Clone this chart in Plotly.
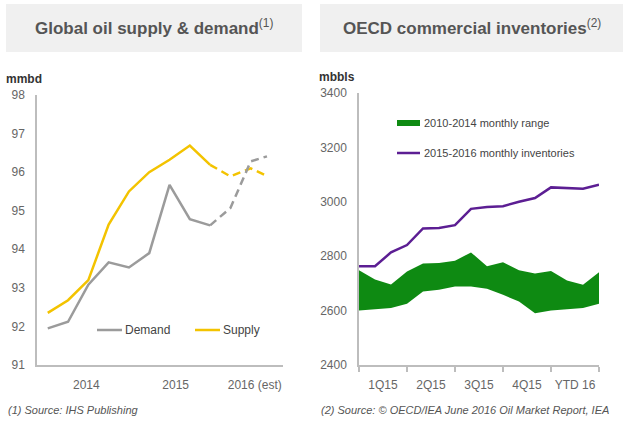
import plotly.graph_objects as go

# ---------------- data ----------------
# Left chart: quarterly global oil supply & demand (mmbd)
left_x = [0, 1, 2, 3, 4, 5, 6, 7, 8, 9, 10, 10.8]
demand = [91.95, 92.12, 93.08, 93.66, 93.53, 93.9, 95.67, 94.78, 94.62, 95.07, 96.28, 96.41]
supply = [92.35, 92.68, 93.2, 94.64, 95.5, 96.0, 96.32, 96.69, 96.19, 95.89, 96.1, 95.9]
forecast_start = 8  # index from which the series are estimates (dashed)
left_tick_labels = ["2014", "2015", "2016 (est)"]
left_tick_pos = [1.9, 6.3, 10.2]

# Right chart: monthly OECD commercial inventories (mbbls)
months = list(range(16))
range_low = [2600, 2604, 2610, 2625, 2670, 2677, 2689, 2689, 2680, 2658, 2633, 2590, 2600, 2605, 2610, 2625]
range_high = [2748, 2714, 2696, 2744, 2773, 2775, 2783, 2814, 2763, 2778, 2748, 2736, 2746, 2711, 2695, 2741]
inventories = [2763, 2763, 2814, 2841, 2902, 2904, 2914, 2974, 2981, 2984, 3000, 3014, 3053, 3051, 3048, 3063]
right_tick_labels = ["1Q15", "2Q15", "3Q15", "4Q15", "YTD 16"]

# ---------------- style ----------------
YELLOW = "#F3C300"
GRAY = "#9B9B9B"
PURPLE = "#5C1E93"
GREEN = "#0E8A12"
AXIS = "#BDBDBD"
TICK = "#666666"
FONT = "Liberation Sans, Arial, sans-serif"
DASH = "8px,5px"

fig = go.Figure()

fs = forecast_start
# Left chart traces
fig.add_trace(go.Scatter(x=left_x[:fs + 1], y=supply[:fs + 1], mode="lines",
                         line=dict(color=YELLOW, width=2.5), xaxis="x", yaxis="y", showlegend=False))
fig.add_trace(go.Scatter(x=left_x[fs:], y=supply[fs:], mode="lines",
                         line=dict(color=YELLOW, width=2.5, dash=DASH), xaxis="x", yaxis="y", showlegend=False))
fig.add_trace(go.Scatter(x=left_x[:fs + 1], y=demand[:fs + 1], mode="lines",
                         line=dict(color=GRAY, width=2.5), xaxis="x", yaxis="y", showlegend=False))
fig.add_trace(go.Scatter(x=left_x[fs:], y=demand[fs:], mode="lines",
                         line=dict(color=GRAY, width=2.5, dash=DASH), xaxis="x", yaxis="y", showlegend=False))

# Right chart traces
fig.add_trace(go.Scatter(x=months, y=range_low, mode="lines", line=dict(width=0, color=GREEN),
                         xaxis="x2", yaxis="y2", showlegend=False, hoverinfo="skip"))
fig.add_trace(go.Scatter(x=months, y=range_high, mode="lines", line=dict(width=0, color=GREEN),
                         fill="tonexty", fillcolor=GREEN, xaxis="x2", yaxis="y2", showlegend=False))
fig.add_trace(go.Scatter(x=months, y=inventories, mode="lines", line=dict(color=PURPLE, width=2.5),
                         xaxis="x2", yaxis="y2", showlegend=False))

W, H = 629, 422


def px(x):
    return x / W


def py(y):
    return 1 - y / H


shapes = [
    # title boxes
    dict(type="rect", xref="paper", yref="paper", x0=px(6), x1=px(302), y0=py(52), y1=py(4),
         fillcolor="#F0F0F0", line=dict(width=0), layer="below"),
    dict(type="rect", xref="paper", yref="paper", x0=px(320), x1=px(623), y0=py(52), y1=py(4),
         fillcolor="#F0F0F0", line=dict(width=0), layer="below"),
    # left legend samples
    dict(type="line", xref="paper", yref="paper", x0=px(97), x1=px(122), y0=py(330), y1=py(330),
         line=dict(color=GRAY, width=2.5)),
    dict(type="line", xref="paper", yref="paper", x0=px(195), x1=px(220), y0=py(330), y1=py(330),
         line=dict(color=YELLOW, width=2.5)),
    # right legend samples
    dict(type="rect", xref="paper", yref="paper", x0=px(397), x1=px(420), y0=py(126), y1=py(120),
         fillcolor=GREEN, line=dict(width=0)),
    dict(type="line", xref="paper", yref="paper", x0=px(397), x1=px(420), y0=py(153), y1=py(153),
         line=dict(color=PURPLE, width=2.5)),
]

annotations = [
    dict(text="<b>Global oil supply & demand</b><sup>(1)</sup>", x=px(154), y=py(27), xref="paper", yref="paper",
         showarrow=False, font=dict(size=17, color="#555555", family=FONT), xanchor="center", yanchor="middle"),
    dict(text="<b>OECD commercial inventories</b><sup>(2)</sup>", x=px(472), y=py(27), xref="paper", yref="paper",
         showarrow=False, font=dict(size=17, color="#555555", family=FONT), xanchor="center", yanchor="middle"),
    dict(text="<b>mmbd</b>", x=px(4), y=py(79), xref="paper", yref="paper", showarrow=False,
         font=dict(size=12, color="#333333", family=FONT), xanchor="left", yanchor="middle"),
    dict(text="<b>mbbls</b>", x=px(317), y=py(77), xref="paper", yref="paper", showarrow=False,
         font=dict(size=12, color="#333333", family=FONT), xanchor="left", yanchor="middle"),
    dict(text="Demand", x=px(123), y=py(330), xref="paper", yref="paper", showarrow=False,
         font=dict(size=12, color="#444444", family=FONT), xanchor="left", yanchor="middle"),
    dict(text="Supply", x=px(221), y=py(330), xref="paper", yref="paper", showarrow=False,
         font=dict(size=12, color="#444444", family=FONT), xanchor="left", yanchor="middle"),
    dict(text="2010-2014 monthly range", x=px(422), y=py(123), xref="paper", yref="paper", showarrow=False,
         font=dict(size=11, color="#444444", family=FONT), xanchor="left", yanchor="middle"),
    dict(text="2015-2016 monthly inventories", x=px(422), y=py(153), xref="paper", yref="paper", showarrow=False,
         font=dict(size=11, color="#444444", family=FONT), xanchor="left", yanchor="middle"),
    dict(text="<i>(1) Source: IHS Publishing</i>", x=px(6), y=py(410), xref="paper", yref="paper",
         showarrow=False, font=dict(size=11, color="#555555", family=FONT), xanchor="left", yanchor="middle"),
    dict(text="<i>(2) Source: © OECD/IEA June 2016 Oil Market Report, IEA</i>", x=px(319), y=py(410),
         xref="paper", yref="paper", showarrow=False, font=dict(size=11, color="#555555", family=FONT),
         xanchor="left", yanchor="middle"),
]

axis_common = dict(showgrid=False, zeroline=False, showline=True, linecolor=AXIS, linewidth=1.5,
                   automargin=False, tickfont=dict(size=12, color=TICK, family=FONT))

fig.update_layout(
    width=W, height=H,
    margin=dict(l=0, r=0, t=0, b=0, pad=0, autoexpand=False),
    paper_bgcolor="white", plot_bgcolor="white",
    font=dict(family=FONT),
    showlegend=False,
    shapes=shapes,
    annotations=annotations,
    xaxis=dict(domain=[px(37), px(283)], range=[-0.53, 11.59], tickvals=left_tick_pos,
               ticktext=left_tick_labels, ticks="", ticklabelstandoff=8, anchor="y", **axis_common),
    yaxis=dict(domain=[py(365), py(95)], range=[91, 98], dtick=1, ticks="", ticklabelstandoff=8,
               anchor="x", **axis_common),
    xaxis2=dict(domain=[px(359), px(599)], range=[0, 15], tickvals=[1.5, 4.5, 7.5, 10.5, 13.5],
                ticktext=right_tick_labels, ticks="", ticklabelstandoff=8, anchor="y2",
                minor=dict(tickvals=[0, 3, 6, 9, 12, 15], ticks="outside", ticklen=5, tickcolor=AXIS,
                           tickwidth=1.5, showgrid=False),
                **axis_common),
    yaxis2=dict(domain=[py(365), py(93)], range=[2400, 3400], dtick=200, ticks="", ticklabelstandoff=8,
                anchor="x2", **axis_common),
)

fig.write_html("out.html", config={"displayModeBar": False},
               post_script="document.body.style.margin='0';")
